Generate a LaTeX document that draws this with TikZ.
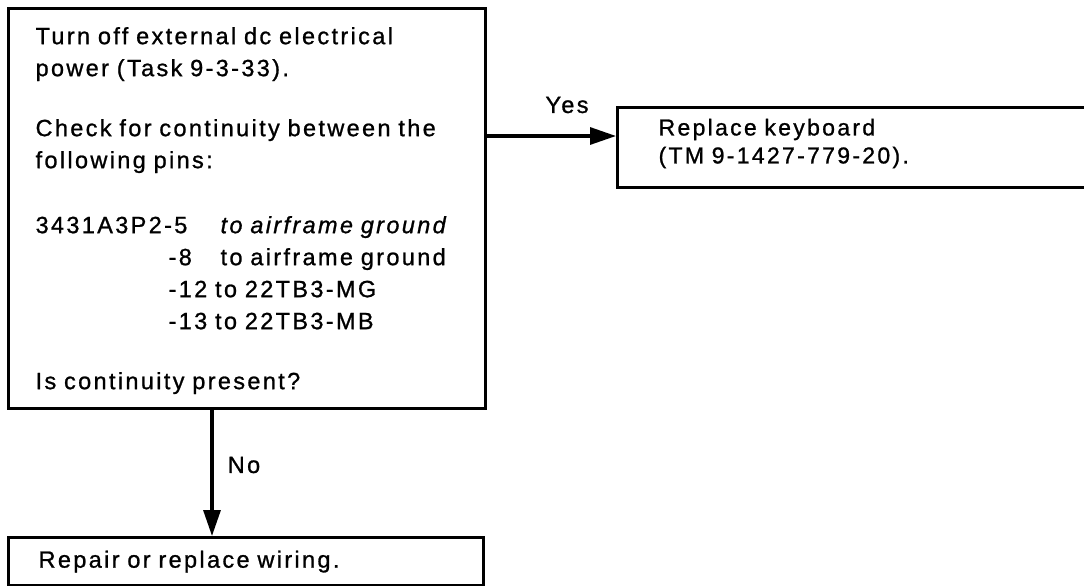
\documentclass[tikz,border=0pt]{standalone}
\usepackage{fontspec}
\setmainfont{Liberation Sans}[LetterSpace=10,FakeBold=1]
\usetikzlibrary{arrows.meta}
\tikzset{
  box/.style={draw, line width=3.2pt, rectangle, anchor=north west, align=left, inner sep=0pt},
  conn/.style={line width=3.2pt, -{Triangle[length=26pt,width=17pt]}},
  lbl/.style={inner sep=0pt, font=\fontsize{23.5}{28}\selectfont}
}
\begin{document}
\begin{tikzpicture}[x=1pt,y=-1pt]
\clip (0,0) rectangle (1084,586);
\node[box, minimum width=477pt, minimum height=400pt, text width=423pt,
      font=\fontsize{23.5}{32}\selectfont] (main) at (7,7) {%
\rule{0pt}{21pt}Turn off external dc electrical\\
power (Task 9-3-33).\\[28pt]
Check for continuity between the\\
following pins:\\[33pt]
\makebox[185pt][l]{3431A3P2-5}\textit{to airframe ground}\\
\hspace*{133pt}\makebox[52pt][l]{-8}to airframe ground\\
\hspace*{133pt}-12 to 22TB3-MG\\
\hspace*{133pt}-13 to 22TB3-MB\\[28pt]
Is continuity present?};
\node[box, minimum width=500pt, minimum height=80pt, text width=418pt,
      font=\fontsize{23}{28}\selectfont] (rep) at (616,106) {%
Replace keyboard\\
(TM 9-1427-779-20).\rule[-13pt]{0pt}{13pt}};
\node[box, minimum width=475pt, minimum height=48pt, text width=415pt,
      font=\fontsize{23.5}{28}\selectfont] (fix) at (7,536) {Repair or replace wiring.};
\coordinate (yy) at (0,136);
\coordinate (xx) at (212,0);
\draw[conn] (main.east |- yy) -- (rep.west |- yy);
\draw[conn] (main.south -| xx) -- (fix.north -| xx);
\node[lbl] (yes) at (567,105) {Yes};
\node[lbl] (no) at (244,465) {No};
\end{tikzpicture}
\end{document}
